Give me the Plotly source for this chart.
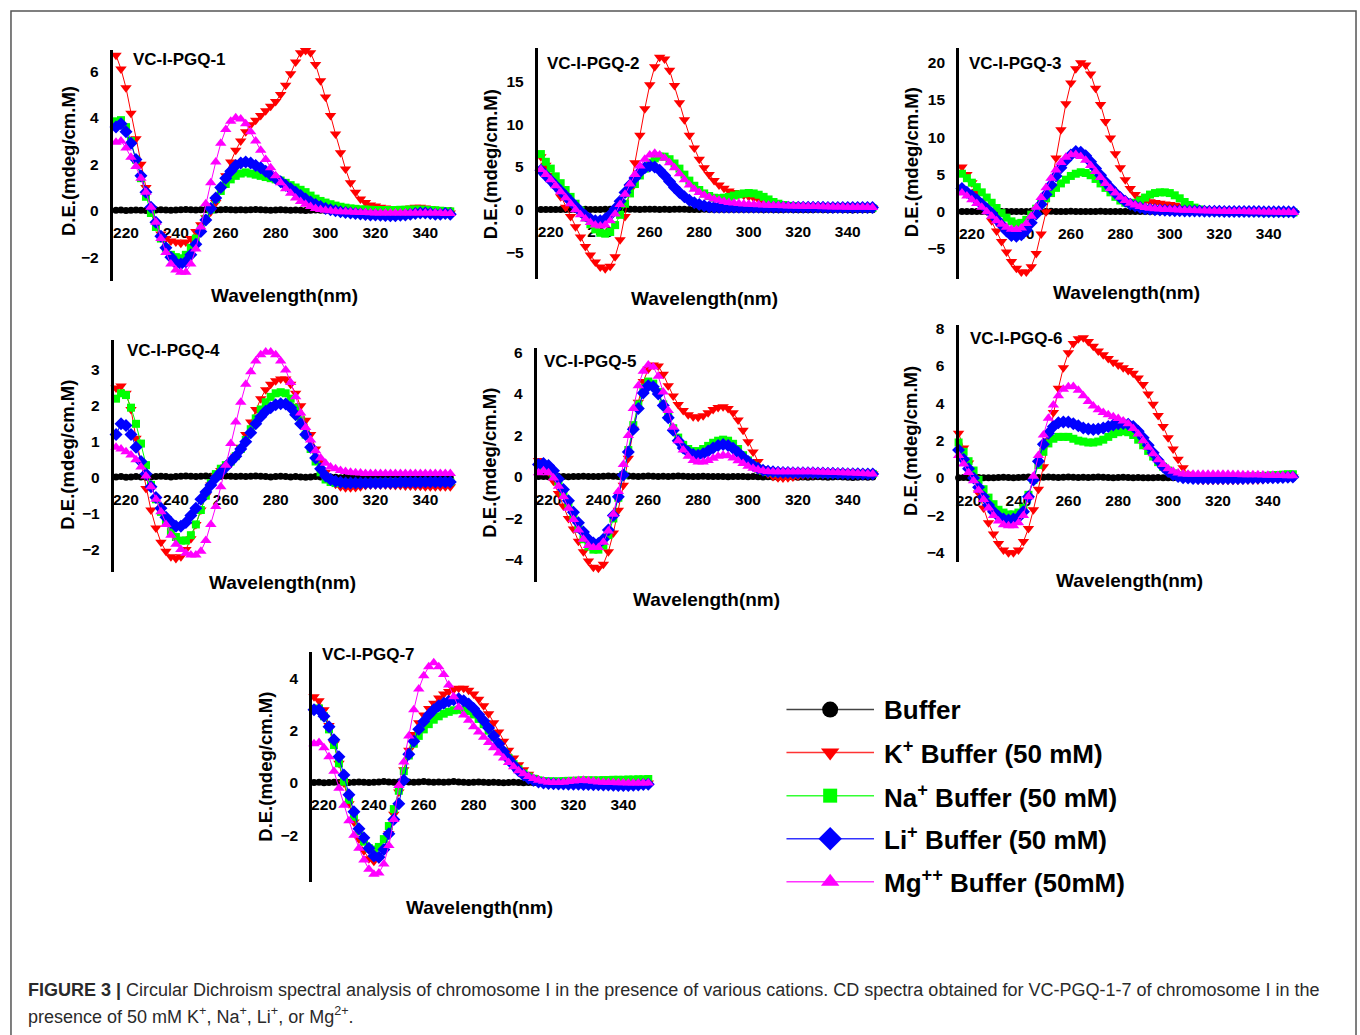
import plotly.graph_objects as go

W, H = 1360, 1035
WL = list(range(216, 351, 2))  # wavelength (nm), 68 points

BUFFER = [0.02, 0.03, 0.01, 0.02, 0.03, 0.02, 0.01, 0.02, 0.03, 0.04,
          0.03, 0.02, 0.03, 0.04, 0.05, 0.04, 0.03, 0.04, 0.05, 0.04,
          0.03, 0.04, 0.05, 0.04, 0.03, 0.04, 0.03, 0.04, 0.05, 0.04,
          0.03, 0.02, 0.03, 0.04, 0.03, 0.02, 0.03, 0.02, 0.01, 0.02,
          0.03, 0.02, 0.01, 0.02, 0.01, 0.0, 0.01, 0.0, -0.01, 0.0,
          0.01, 0.0, -0.01, 0.0, -0.01, 0.0, 0.01, 0.0, -0.01, 0.0,
          0.01, 0.0, -0.01, -0.02, -0.01, 0.0, -0.01, 0.0]

P1_K = [6.7, 6.1, 5.3, 4.2, 3.1, 2.0, 1.0, 0.1, -0.6, -1.0,
        -1.2, -1.3, -1.35, -1.4, -1.35, -1.2, -0.9, -0.6, -0.3, -0.05,
        0.35, 0.9, 1.5, 2.1, 2.6, 3.0, 3.4, 3.7, 3.9, 4.1,
        4.3, 4.5, 4.7, 5.0, 5.4, 5.9, 6.4, 6.8, 6.9, 6.8,
        6.3, 5.6, 4.9, 4.1, 3.3, 2.5, 1.8, 1.2, 0.8, 0.5,
        0.35, 0.25, 0.2, 0.15, 0.12, 0.1, 0.08, 0.08, 0.1, 0.12,
        0.15, 0.15, 0.12, 0.1, 0.05, 0.0, -0.05, -0.1]
P1_NA = [3.85, 3.9, 3.6, 3.0, 2.2, 1.4, 0.6, -0.1, -0.7, -1.2,
         -1.6, -1.9, -2.0, -2.05, -1.9, -1.6, -1.2, -0.8, -0.35, 0.05,
         0.5, 0.85, 1.15, 1.35, 1.5, 1.6, 1.65, 1.6, 1.55, 1.5,
         1.45, 1.4, 1.35, 1.3, 1.2, 1.1, 1.0, 0.9, 0.8, 0.65,
         0.52, 0.42, 0.35, 0.28, 0.22, 0.17, 0.13, 0.1, 0.08, 0.06,
         0.05, 0.04, 0.03, 0.03, 0.03, 0.03, 0.03, 0.04, 0.04, 0.05,
         0.05, 0.05, 0.04, 0.03, 0.02, 0.0, -0.02, -0.03]
P1_LI = [3.6, 3.75, 3.4, 2.9, 2.2, 1.5, 0.8, 0.15, -0.5, -1.1,
         -1.6, -2.0, -2.25, -2.3, -2.2, -1.9, -1.45, -0.9, -0.4, 0.1,
         0.55, 1.0, 1.4, 1.7, 1.95, 2.05, 2.1, 2.05, 1.95, 1.85,
         1.7, 1.55, 1.4, 1.25, 1.1, 0.95, 0.8, 0.65, 0.5, 0.38,
         0.27, 0.18, 0.1, 0.04, 0.0, -0.04, -0.08, -0.1, -0.12, -0.14,
         -0.16, -0.18, -0.19, -0.2, -0.21, -0.22, -0.22, -0.2, -0.18, -0.15,
         -0.12, -0.1, -0.1, -0.12, -0.15, -0.15, -0.12, -0.15]
P1_MG = [2.95, 3.0, 2.7, 2.3, 1.9, 1.4, 0.8, 0.15, -0.5, -1.2,
         -1.8, -2.3, -2.55, -2.65, -2.65, -2.3, -1.65, -0.7, 0.3, 1.2,
         2.1, 2.9, 3.5, 3.85, 4.0, 3.95, 3.75, 3.4, 3.0, 2.6,
         2.2, 1.85, 1.5, 1.2, 0.95, 0.75, 0.55, 0.4, 0.28, 0.18,
         0.1, 0.05, 0.02, 0.0, -0.02, -0.04, -0.05, -0.06, -0.07, -0.08,
         -0.08, -0.09, -0.1, -0.1, -0.1, -0.1, -0.1, -0.1, -0.1, -0.1,
         -0.1, -0.1, -0.1, -0.1, -0.1, -0.1, -0.12, -0.12]

P2_K = [6.2, 5.2, 4.0, 2.8, 1.5, 0.3, -0.8, -2.0, -3.2, -4.3,
        -5.3, -6.1, -6.7, -6.9, -6.6, -5.5, -3.5, -0.8, 2.3, 5.5,
        8.7, 11.8, 14.6, 16.7, 17.8, 17.6, 16.3, 14.5, 12.5, 10.5,
        8.7, 7.2, 5.9, 4.9, 4.1, 3.4, 2.9, 2.5, 2.2, 2.0,
        1.8, 1.7, 1.55, 1.4, 1.2, 1.0, 0.85, 0.7, 0.6, 0.5,
        0.45, 0.42, 0.4, 0.38, 0.35, 0.35, 0.33, 0.32, 0.3, 0.3,
        0.28, 0.27, 0.25, 0.25, 0.22, 0.22, 0.2, 0.2]
P2_NA = [6.5, 5.6, 4.8, 3.9, 3.1, 2.3, 1.5, 0.7, -0.1, -0.9,
         -1.7, -2.3, -2.7, -2.8, -2.6, -1.8, -0.6, 0.7, 1.9, 3.0,
         4.0, 4.8, 5.5, 6.0, 6.2, 6.2, 5.9, 5.4, 4.8, 4.1,
         3.4, 2.8, 2.3, 1.9, 1.6, 1.4, 1.35, 1.4, 1.5, 1.65,
         1.8, 1.9, 1.95, 1.9, 1.75, 1.5, 1.2, 0.9, 0.7, 0.55,
         0.45, 0.4, 0.35, 0.33, 0.32, 0.3, 0.3, 0.3, 0.28, 0.28,
         0.27, 0.26, 0.25, 0.24, 0.23, 0.22, 0.21, 0.2]
P2_LI = [4.6, 4.0, 3.4, 2.8, 2.2, 1.6, 1.0, 0.4, -0.2, -0.7,
         -1.1, -1.3, -1.3, -1.1, -0.6, 0.1, 1.0, 2.0, 2.9, 3.7,
         4.4, 4.9, 5.1, 5.0, 4.6, 4.0, 3.3, 2.6, 2.0, 1.5,
         1.1, 0.8, 0.6, 0.45, 0.35, 0.3, 0.3, 0.3, 0.3, 0.3,
         0.3, 0.3, 0.3, 0.3, 0.3, 0.3, 0.3, 0.3, 0.3, 0.3,
         0.3, 0.3, 0.3, 0.3, 0.3, 0.28, 0.28, 0.28, 0.27, 0.27,
         0.27, 0.26, 0.26, 0.25, 0.25, 0.25, 0.25, 0.25]
P2_MG = [4.7, 4.1, 3.5, 2.8, 2.1, 1.4, 0.7, 0.0, -0.6, -1.1,
         -1.5, -1.8, -1.9, -1.8, -1.3, -0.5, 0.6, 1.8, 3.0, 4.1,
         5.1, 5.9, 6.4, 6.6, 6.4, 6.0, 5.5, 4.9, 4.2, 3.5,
         2.9, 2.4, 2.0, 1.7, 1.45, 1.25, 1.1, 0.95, 0.85, 0.78,
         0.72, 0.68, 0.64, 0.6, 0.57, 0.54, 0.52, 0.5, 0.48, 0.46,
         0.44, 0.42, 0.4, 0.39, 0.38, 0.37, 0.36, 0.35, 0.34, 0.33,
         0.32, 0.31, 0.3, 0.3, 0.29, 0.28, 0.28, 0.27]

P3_K = [6.0, 5.0, 3.9, 2.7, 1.4, 0.1, -1.2, -2.6, -4.0, -5.4,
        -6.7, -7.6, -8.1, -8.1, -7.4, -5.6, -3.0, 0.0, 3.5, 7.2,
        11.0, 14.5, 17.3, 19.2, 20.0, 19.7, 18.5, 16.6, 14.4, 12.1,
        9.9, 7.8, 5.9, 4.3, 3.1, 2.3, 1.8, 1.5, 1.35, 1.25,
        1.15, 1.05, 0.95, 0.85, 0.72, 0.58, 0.45, 0.32, 0.22, 0.15,
        0.1, 0.05, 0.02, 0.0, -0.02, -0.03, -0.04, -0.05, -0.05, -0.06,
        -0.06, -0.07, -0.08, -0.08, -0.09, -0.1, -0.1, -0.1]
P3_NA = [5.1, 4.5, 3.9, 3.3, 2.6, 1.9, 1.2, 0.5, -0.2, -0.8,
         -1.3, -1.6, -1.5, -1.1, -0.4, 0.4, 1.1, 1.8, 2.5, 3.2,
         3.8, 4.3, 4.8, 5.1, 5.3, 5.2, 4.9, 4.4, 3.8, 3.2,
         2.6, 2.0, 1.5, 1.2, 1.1, 1.2, 1.5, 1.9, 2.3, 2.5,
         2.6, 2.6, 2.5, 2.2, 1.8, 1.3, 0.9, 0.55, 0.3, 0.15,
         0.08, 0.04, 0.02, 0.0, 0.0, -0.02, -0.03, -0.04, -0.05, -0.05,
         -0.06, -0.07, -0.08, -0.08, -0.09, -0.1, -0.1, -0.1]
P3_LI = [3.1, 2.6, 2.1, 1.6, 1.0, 0.4, -0.2, -1.0, -1.8, -2.6,
         -3.2, -3.3, -3.1, -2.5, -1.5, -0.3, 1.0, 2.3, 3.6, 4.8,
         5.9, 6.9, 7.6, 8.1, 8.0, 7.5, 6.7, 5.8, 4.9, 4.0,
         3.2, 2.5, 1.9, 1.4, 1.0, 0.75, 0.55, 0.4, 0.32, 0.27,
         0.22, 0.18, 0.15, 0.13, 0.12, 0.1, 0.1, 0.08, 0.08, 0.07,
         0.06, 0.05, 0.05, 0.04, 0.04, 0.03, 0.03, 0.02, 0.02, 0.01,
         0.01, 0.0, 0.0, 0.0, -0.01, -0.02, -0.02, -0.03]
P3_MG = [2.5, 2.1, 1.6, 1.1, 0.6, 0.0, -0.6, -1.2, -1.7, -2.1,
         -2.35, -2.4, -2.2, -1.6, -0.6, 0.6, 1.9, 3.2, 4.5, 5.6,
         6.6, 7.3, 7.65, 7.7, 7.4, 6.9, 6.2, 5.4, 4.6, 3.8,
         3.1, 2.5, 1.95, 1.5, 1.15, 0.9, 0.7, 0.55, 0.45, 0.4,
         0.35, 0.3, 0.28, 0.25, 0.22, 0.2, 0.18, 0.16, 0.14, 0.12,
         0.1, 0.08, 0.06, 0.05, 0.04, 0.03, 0.02, 0.01, 0.0, -0.01,
         -0.02, -0.03, -0.04, -0.05, -0.06, -0.08, -0.09, -0.1]

P4_K = [2.5, 2.55, 2.35, 1.9, 1.1, 0.4, -0.3, -0.9, -1.4, -1.8,
        -2.05, -2.2, -2.25, -2.2, -2.0, -1.7, -1.3, -0.9, -0.5, -0.2,
        0.05, 0.2, 0.3, 0.4, 0.6, 0.85, 1.2, 1.55, 1.9, 2.2,
        2.45, 2.6, 2.7, 2.75, 2.75, 2.6, 2.35, 2.0, 1.6, 1.2,
        0.8, 0.45, 0.15, -0.05, -0.18, -0.25, -0.28, -0.28, -0.27, -0.25,
        -0.22, -0.2, -0.2, -0.2, -0.2, -0.21, -0.22, -0.22, -0.23, -0.23,
        -0.24, -0.24, -0.25, -0.25, -0.25, -0.25, -0.25, -0.25]
P4_NA = [2.2, 2.35, 2.3, 1.95, 1.5, 0.95, 0.35, -0.2, -0.6, -0.95,
         -1.25, -1.5, -1.65, -1.75, -1.75, -1.6, -1.3, -0.9, -0.5, -0.15,
         0.1, 0.25, 0.35, 0.45, 0.6, 0.8, 1.05, 1.35, 1.65, 1.9,
         2.1, 2.25, 2.35, 2.38, 2.35, 2.2, 1.95, 1.6, 1.2, 0.8,
         0.45, 0.15, -0.05, -0.12, -0.15, -0.15, -0.15, -0.15, -0.15, -0.15,
         -0.15, -0.15, -0.14, -0.14, -0.14, -0.13, -0.13, -0.13, -0.12, -0.12,
         -0.12, -0.12, -0.12, -0.12, -0.12, -0.12, -0.12, -0.12]
P4_LI = [1.2, 1.5, 1.45, 1.2, 0.85, 0.45, 0.1, -0.25, -0.55, -0.85,
         -1.1, -1.25, -1.35, -1.35, -1.25, -1.05, -0.85, -0.6, -0.4, -0.2,
         0.0, 0.15, 0.3, 0.45, 0.6, 0.8, 1.0, 1.25, 1.5, 1.7,
         1.85, 1.95, 2.03, 2.06, 2.05, 1.95, 1.75, 1.5, 1.2, 0.85,
         0.55, 0.25, 0.05, -0.05, -0.1, -0.13, -0.15, -0.15, -0.15, -0.15,
         -0.15, -0.15, -0.15, -0.15, -0.14, -0.14, -0.14, -0.13, -0.13, -0.13,
         -0.13, -0.13, -0.12, -0.12, -0.12, -0.12, -0.12, -0.12]
P4_MG = [0.85, 0.8, 0.72, 0.63, 0.5, 0.3, 0.05, -0.25, -0.6, -0.95,
         -1.3, -1.6, -1.85, -2.0, -2.1, -2.15, -2.15, -2.05, -1.75, -1.3,
         -0.8, -0.25, 0.35, 0.95, 1.55, 2.1, 2.6, 2.95, 3.25, 3.42,
         3.5, 3.5, 3.42, 3.25, 3.0, 2.65, 2.25, 1.8, 1.4, 1.05,
         0.75, 0.55, 0.4, 0.3, 0.25, 0.2, 0.17, 0.15, 0.14, 0.13,
         0.12, 0.12, 0.12, 0.12, 0.12, 0.12, 0.12, 0.12, 0.12, 0.12,
         0.12, 0.12, 0.12, 0.12, 0.12, 0.12, 0.12, 0.12]

P5_K = [0.8, 0.6, 0.25, -0.2, -0.8, -1.4, -2.0, -2.5, -3.1, -3.6,
        -4.05, -4.35, -4.4, -4.2, -3.6, -2.7, -1.6, -0.4, 0.9, 2.3,
        3.6, 4.6, 5.2, 5.4, 5.35, 4.95, 4.4, 3.9, 3.5, 3.2,
        3.0, 2.9, 2.88, 2.95, 3.1, 3.25, 3.35, 3.38, 3.3, 3.1,
        2.75, 2.25, 1.7, 1.2, 0.75, 0.4, 0.15, 0.03, -0.03, -0.05,
        -0.03, 0.0, 0.05, 0.08, 0.1, 0.1, 0.12, 0.12, 0.12, 0.13,
        0.13, 0.13, 0.13, 0.14, 0.14, 0.14, 0.15, 0.15]
P5_NA = [0.35, 0.5, 0.4, 0.15, -0.25, -0.75, -1.3, -1.9, -2.5, -3.0,
         -3.35, -3.5, -3.5, -3.3, -2.8, -2.0, -1.0, 0.1, 1.3, 2.5,
         3.5, 4.3, 4.6, 4.5, 4.1, 3.5, 2.9, 2.35, 1.9, 1.55,
         1.35, 1.25, 1.25, 1.35, 1.5, 1.65, 1.75, 1.8, 1.75, 1.6,
         1.35, 1.05, 0.8, 0.55, 0.4, 0.3, 0.25, 0.22, 0.2, 0.2,
         0.2, 0.2, 0.2, 0.19, 0.19, 0.18, 0.18, 0.18, 0.17, 0.17,
         0.17, 0.16, 0.16, 0.16, 0.15, 0.15, 0.15, 0.15]
P5_LI = [0.6, 0.65, 0.55, 0.3, -0.1, -0.6, -1.15, -1.7, -2.2, -2.65,
         -3.0, -3.18, -3.2, -3.0, -2.55, -1.85, -0.95, 0.1, 1.2, 2.3,
         3.3, 4.05, 4.4, 4.35, 4.0, 3.45, 2.85, 2.25, 1.75, 1.4,
         1.2, 1.08, 1.05, 1.12, 1.25, 1.4, 1.52, 1.57, 1.52, 1.38,
         1.18, 0.95, 0.75, 0.55, 0.42, 0.33, 0.28, 0.25, 0.23, 0.22,
         0.22, 0.21, 0.21, 0.2, 0.2, 0.2, 0.19, 0.19, 0.18, 0.18,
         0.17, 0.17, 0.16, 0.16, 0.16, 0.15, 0.15, 0.15]
P5_MG = [0.2, 0.3, 0.2, -0.05, -0.45, -0.95, -1.5, -2.05, -2.55, -3.0,
         -3.3, -3.4, -3.4, -3.15, -2.6, -1.8, -0.7, 0.6, 2.0, 3.3,
         4.4, 5.1, 5.4, 5.3, 4.85, 4.1, 3.2, 2.4, 1.75, 1.3,
         1.0, 0.8, 0.72, 0.72, 0.8, 0.9, 1.0, 1.05, 1.02, 0.92,
         0.78, 0.65, 0.52, 0.42, 0.35, 0.3, 0.27, 0.25, 0.25, 0.25,
         0.25, 0.25, 0.25, 0.25, 0.25, 0.25, 0.24, 0.24, 0.23, 0.22,
         0.22, 0.21, 0.2, 0.19, 0.18, 0.17, 0.16, 0.15]

P6_K = [2.4, 1.6, 0.8, 0.0, -0.8, -1.6, -2.4, -3.0, -3.5, -3.85,
        -4.0, -4.0, -3.85, -3.4, -2.7, -1.7, -0.6, 0.6, 2.0, 3.5,
        4.8, 5.9, 6.7, 7.2, 7.45, 7.5, 7.3, 7.05, 6.8, 6.6,
        6.4, 6.2, 6.05, 5.9, 5.75, 5.6, 5.35, 5.0, 4.5, 3.95,
        3.35, 2.75, 2.15, 1.55, 1.0, 0.55, 0.2, 0.0, -0.1, -0.12,
        -0.12, -0.12, -0.12, -0.12, -0.12, -0.12, -0.12, -0.1, -0.1, -0.1,
        -0.1, -0.08, -0.05, -0.02, 0.0, 0.02, 0.04, 0.05]
P6_NA = [1.9, 1.4, 0.9, 0.4, -0.1, -0.6, -1.05, -1.4, -1.7, -1.85,
         -1.95, -1.95, -1.85, -1.6, -0.9, -0.1, 0.7, 1.4, 1.85, 2.1,
         2.2, 2.2, 2.2, 2.1, 2.0, 1.95, 1.9, 1.9, 1.95, 2.05,
         2.2, 2.35, 2.45, 2.5, 2.45, 2.3, 2.05, 1.75, 1.45, 1.15,
         0.85, 0.6, 0.4, 0.25, 0.15, 0.1, 0.05, 0.03, 0.03, 0.03,
         0.04, 0.04, 0.05, 0.05, 0.05, 0.06, 0.06, 0.07, 0.08, 0.08,
         0.09, 0.1, 0.12, 0.14, 0.16, 0.18, 0.2, 0.2]
P6_LI = [1.5, 1.0, 0.5, 0.0, -0.5, -1.0, -1.45, -1.8, -2.05, -2.2,
         -2.25, -2.2, -2.1, -1.8, -1.0, -0.1, 0.9, 1.8, 2.4, 2.75,
         2.95, 3.0, 3.0, 2.9, 2.8, 2.68, 2.62, 2.6, 2.62, 2.68,
         2.75, 2.83, 2.9, 2.92, 2.88, 2.75, 2.5, 2.15, 1.75, 1.35,
         0.95, 0.6, 0.35, 0.18, 0.08, 0.02, 0.0, -0.02, -0.03, -0.03,
         -0.03, -0.03, -0.03, -0.03, -0.03, -0.02, -0.02, -0.02, -0.01, -0.01,
         0.0, 0.0, 0.01, 0.01, 0.02, 0.03, 0.04, 0.05]
P6_MG = [1.2, 0.75, 0.3, -0.15, -0.65, -1.15, -1.6, -2.0, -2.3, -2.5,
         -2.55, -2.55, -2.4, -2.0, -1.0, 0.1, 1.2, 2.3, 3.2, 3.9,
         4.4, 4.75, 4.88, 4.9, 4.7, 4.4, 4.1, 3.85, 3.65, 3.5,
         3.38, 3.28, 3.18, 3.05, 2.9, 2.65, 2.35, 2.0, 1.65, 1.3,
         0.98, 0.72, 0.5, 0.36, 0.27, 0.22, 0.2, 0.2, 0.2, 0.2,
         0.2, 0.2, 0.2, 0.2, 0.2, 0.19, 0.19, 0.18, 0.18, 0.17,
         0.17, 0.16, 0.15, 0.15, 0.14, 0.13, 0.12, 0.12]

P7_K = [3.3, 3.15, 2.8, 2.2, 1.5, 0.75, 0.0, -0.8, -1.5, -2.15,
        -2.6, -2.9, -3.0, -2.9, -2.55, -1.95, -1.2, -0.35, 0.5, 1.25,
        1.85, 2.3, 2.6, 2.85, 3.05, 3.25, 3.4, 3.5, 3.58, 3.62,
        3.62, 3.55, 3.4, 3.2, 2.95, 2.65, 2.3, 1.95, 1.6, 1.25,
        0.95, 0.7, 0.5, 0.33, 0.2, 0.12, 0.07, 0.05, 0.04, 0.04,
        0.05, 0.07, 0.08, 0.1, 0.1, 0.08, 0.06, 0.05, 0.04, 0.04,
        0.04, 0.03, 0.03, 0.02, 0.02, 0.01, 0.0, 0.0]
P7_NA = [2.8, 2.85, 2.55, 2.05, 1.45, 0.75, 0.05, -0.65, -1.3, -1.85,
         -2.25, -2.5, -2.55, -2.45, -2.15, -1.65, -1.0, -0.3, 0.45, 1.05,
         1.5, 1.8, 2.05, 2.25, 2.42, 2.55, 2.65, 2.72, 2.78, 2.8,
         2.8, 2.75, 2.62, 2.45, 2.25, 2.0, 1.75, 1.48, 1.2, 0.95,
         0.72, 0.52, 0.36, 0.24, 0.16, 0.1, 0.07, 0.06, 0.06, 0.06,
         0.07, 0.08, 0.08, 0.09, 0.1, 0.1, 0.1, 0.1, 0.11, 0.11,
         0.12, 0.12, 0.12, 0.13, 0.13, 0.14, 0.14, 0.15]
P7_LI = [2.8, 2.8, 2.55, 2.15, 1.65, 1.0, 0.3, -0.45, -1.1, -1.75,
         -2.1, -2.5, -2.8, -2.85, -2.55, -1.95, -1.4, -0.8, 0.1, 1.1,
         1.6, 2.05, 2.35, 2.6, 2.8, 2.95, 3.05, 3.13, 3.18, 3.22,
         3.15, 3.02, 2.85, 2.62, 2.38, 2.1, 1.8, 1.5, 1.2, 0.92,
         0.68, 0.47, 0.3, 0.18, 0.1, 0.04, 0.0, -0.02, -0.03, -0.04,
         -0.04, -0.05, -0.05, -0.05, -0.06, -0.06, -0.07, -0.07, -0.08, -0.08,
         -0.09, -0.1, -0.1, -0.1, -0.09, -0.08, -0.06, -0.05]
P7_MG = [1.5, 1.55, 1.35, 1.0, 0.45, -0.2, -0.85, -1.45, -2.0, -2.5,
         -2.95, -3.3, -3.5, -3.45, -3.1, -2.4, -1.4, -0.1, 0.8, 1.8,
         2.8, 3.6, 4.1, 4.45, 4.6, 4.45, 4.15, 3.75, 3.3, 2.9,
         2.6, 2.4, 2.15, 1.95, 1.75, 1.55, 1.35, 1.15, 0.95, 0.78,
         0.62, 0.47, 0.35, 0.25, 0.17, 0.1, 0.06, 0.03, 0.02, 0.02,
         0.03, 0.05, 0.07, 0.09, 0.1, 0.08, 0.06, 0.04, 0.03, 0.02,
         0.02, 0.01, 0.01, 0.0, 0.0, 0.0, 0.0, 0.0]

PANEL_NAMES = ["VC-I-PGQ-1", "VC-I-PGQ-2", "VC-I-PGQ-3", "VC-I-PGQ-4",
               "VC-I-PGQ-5", "VC-I-PGQ-6", "VC-I-PGQ-7"]
PANEL_DATA = [
    (P1_K, P1_NA, P1_LI, P1_MG), (P2_K, P2_NA, P2_LI, P2_MG),
    (P3_K, P3_NA, P3_LI, P3_MG), (P4_K, P4_NA, P4_LI, P4_MG),
    (P5_K, P5_NA, P5_LI, P5_MG), (P6_K, P6_NA, P6_LI, P6_MG),
    (P7_K, P7_NA, P7_LI, P7_MG),
]
X_TICKS = [220, 240, 260, 280, 300, 320, 340]
SERIES_NAMES = ["Buffer", "K<sup>+</sup> Buffer (50 mM)", "Na<sup>+</sup> Buffer (50 mM)",
                "Li<sup>+</sup> Buffer (50 mM)", "Mg<sup>++</sup> Buffer (50mM)"]

for arrs in PANEL_DATA:
    for a in arrs:
        assert len(a) == len(WL), len(a)
assert len(BUFFER) == len(WL)

# ---------------- styling / geometry ----------------
FONT = "Liberation Sans, Arial, sans-serif"
STYLES = [
    dict(color="#000000", symbol="circle", size=7),
    dict(color="#FF0000", symbol="triangle-down", size=10),
    dict(color="#00FF00", symbol="square", size=8),
    dict(color="#0000FF", symbol="diamond", size=10),
    dict(color="#FF00FF", symbol="triangle-up", size=10),
]
# left px, top px, bottom px, xmin, px per nm, zero px, px per unit, dtick
GEOM = [
    (110, 45, 277, 214.7, 2.5, 206.7, 23.33, 2),
    (536, 43, 275, 214.76, 2.48, 205.7, 8.6, 5),
    (958.3, 43, 275, 214.88, 2.48, 207.7, 7.48, 5),
    (111, 336.7, 570, 215.08, 2.5, 475.0, 36.1, 1),
    (535, 345, 580, 215.32, 2.5, 474.3, 20.85, 2),
    (957.7, 321.7, 560, 216.0, 2.5, 475.3, 18.78, 2),
    (310, 650, 881.7, 215.32, 2.5, 781.7, 26.25, 2),
]
XMAX = 352.0
TITLE_POS = [(128, 55), (543, 59), (966, 59), (122, 347), (540, 358), (967, 335), (318, 653)]
YTITLE_POS = [(65, 157), (488, 160), (910, 158), (65, 452), (488, 460), (910, 438), (263, 765)]
XTITLE_POS = [(282, 292), (703, 295), (1126, 289), (280, 580), (705, 597), (1129, 578), (478, 907)]

fig = go.Figure()
layout = dict(
    width=W, height=H, margin=dict(l=0, r=0, t=0, b=0),
    paper_bgcolor="white", plot_bgcolor="rgba(0,0,0,0)",
    showlegend=False, font=dict(family=FONT, color="black"),
)
annotations = []

for i, (geom, data) in enumerate(zip(GEOM, PANEL_DATA)):
    left, top, bottom, xmin, pxnm, zero_px, pxu, dtick = geom
    right = left + (XMAX - xmin) * pxnm
    ytop = (zero_px - top) / pxu
    ybot = -(bottom - zero_px) / pxu
    n = i + 1
    xa = "xaxis" if n == 1 else f"xaxis{n}"
    ya = "yaxis" if n == 1 else f"yaxis{n}"
    xref = "x" if n == 1 else f"x{n}"
    yref = "y" if n == 1 else f"y{n}"
    layout[xa] = dict(
        domain=[left / W, right / W], range=[xmin, XMAX], anchor="free",
        position=1 - zero_px / H, showline=False, showgrid=False, zeroline=False,
        ticks="", tickvals=X_TICKS, ticklabelstandoff=11, layer="below traces",
        tickfont=dict(family=FONT, size=15.5, color="black", weight="bold"),
    )
    layout[ya] = dict(
        domain=[1 - bottom / H, 1 - top / H], range=[ybot, ytop], anchor=xref,
        showline=True, linecolor="black", linewidth=3, showgrid=False, zeroline=False,
        ticks="", dtick=dtick, tick0=0, ticklabelstandoff=8,
        tickfont=dict(family=FONT, size=15.5, color="black", weight="bold"),
    )
    series = [BUFFER] + list(data)
    for s, (vals, st, nm) in enumerate(zip(series, STYLES, SERIES_NAMES)):
        fig.add_trace(go.Scatter(
            x=WL, y=vals, mode="lines+markers", name=nm, xaxis=xref, yaxis=yref,
            line=dict(color=st["color"], width=1),
            marker=dict(color=st["color"], symbol=st["symbol"], size=st["size"], line=dict(width=0)),
            cliponaxis=False, hoverinfo="skip",
        ))
    tx, ty = TITLE_POS[i]
    annotations.append(dict(x=tx / W, y=1 - ty / H, xref="paper", yref="paper", text=PANEL_NAMES[i],
                            showarrow=False, xanchor="left", yanchor="middle",
                            font=dict(family=FONT, size=17, color="black", weight="bold")))
    yx, yy = YTITLE_POS[i]
    annotations.append(dict(x=yx / W, y=1 - yy / H, xref="paper", yref="paper", text="D.E.(mdeg/cm.M)",
                            showarrow=False, xanchor="center", yanchor="middle", textangle=-90,
                            font=dict(family=FONT, size=18.5, color="black", weight="bold")))
    xx, xy = XTITLE_POS[i]
    annotations.append(dict(x=xx / W, y=1 - xy / H, xref="paper", yref="paper", text="Wavelength(nm)",
                            showarrow=False, xanchor="center", yanchor="middle",
                            font=dict(family=FONT, size=19, color="black", weight="bold")))

# ---------------- legend (custom, drawn on its own hidden axes) ----------------
LEG_LEFT, LEG_RIGHT = 785, 873
LEG_ROWS_PX = [708, 751, 795, 838, 881]
LEG_MARKER_SIZES = [16, 16, 14, 18, 16]
LEG_LINE_COLORS = ["#444444", "#FF3333", "#33FF33", "#3333FF", "#FF33FF"]
row_step = (LEG_ROWS_PX[-1] - LEG_ROWS_PX[0]) / 4
leg_top = LEG_ROWS_PX[0] - row_step / 2
leg_bot = LEG_ROWS_PX[-1] + row_step / 2
layout["xaxis8"] = dict(domain=[LEG_LEFT / W, LEG_RIGHT / W], range=[0, 1], visible=False, anchor="y8")
layout["yaxis8"] = dict(domain=[1 - leg_bot / H, 1 - leg_top / H], range=[0.5, 5.5], visible=False, anchor="x8")
for k, (st, nm) in enumerate(zip(STYLES, SERIES_NAMES)):
    yv = 5 - k
    fig.add_trace(go.Scatter(x=[0, 1], y=[yv, yv], mode="lines", xaxis="x8", yaxis="y8",
                             line=dict(color=LEG_LINE_COLORS[k], width=1.5), hoverinfo="skip"))
    fig.add_trace(go.Scatter(x=[0.5], y=[yv], mode="markers", xaxis="x8", yaxis="y8",
                             marker=dict(color=st["color"], symbol=st["symbol"], size=LEG_MARKER_SIZES[k]),
                             cliponaxis=False, hoverinfo="skip"))
    annotations.append(dict(x=881 / W, y=1 - LEG_ROWS_PX[k] / H, xref="paper", yref="paper", text=nm,
                            showarrow=False, xanchor="left", yanchor="middle",
                            font=dict(family=FONT, size=26, color="black", weight="bold")))

# ---------------- caption (two lines) ----------------
CAPTION_LINES = [
    ("<b>FIGURE 3 |</b> Circular Dichroism spectral analysis of chromosome I in the presence of various "
     "cations. CD spectra obtained for VC-PGQ-1-7 of chromosome I in the", 990),
    ("presence of 50 mM K<sup>+</sup>, Na<sup>+</sup>, Li<sup>+</sup>, or Mg<sup>2+</sup>.", 1015),
]
for txt, py in CAPTION_LINES:
    annotations.append(dict(x=23 / W, y=1 - py / H, xref="paper", yref="paper", text=txt,
                            showarrow=False, xanchor="left", yanchor="middle", align="left",
                            font=dict(family=FONT, size=18, color="#2a2a2a")))

layout["annotations"] = annotations
layout["shapes"] = [dict(type="rect", xref="paper", yref="paper", x0=8 / W, x1=1356 / W,
                         y0=-0.02, y1=1 - 6 / H, line=dict(color="#555555", width=1.5),
                         fillcolor="rgba(0,0,0,0)")]
fig.update_layout(**layout)
fig.write_html("out.html")
